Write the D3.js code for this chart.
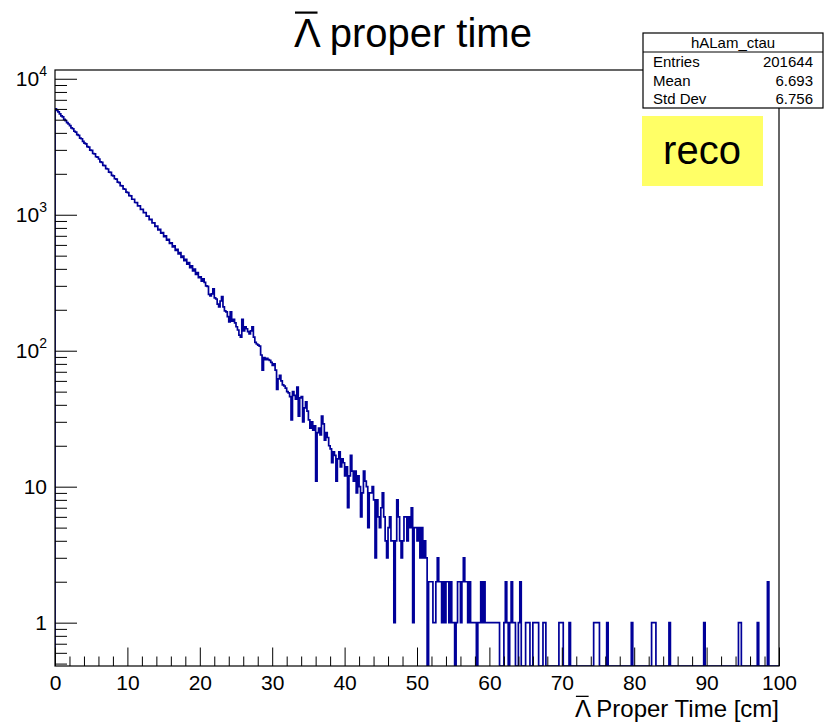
<!DOCTYPE html>
<html><head><meta charset="utf-8">
<script src="https://cdn.jsdelivr.net/npm/d3@7"></script>
<style>
body{margin:0;background:#fff}
svg{display:block}
text{font-family:"Liberation Sans",Arial,Helvetica,sans-serif;fill:#000}
</style>
</head><body>
<svg id="c" width="825" height="725"></svg>
<script>
// ---- data (bin contents of hALam_ctau, 500 bins over 0..100 cm) ----
const counts = [
6020,5850,5700,5510,5330,5240,5020,4930,4760,4650,
4530,4350,4290,4110,4050,3880,3830,3660,3620,3460,
3360,3320,3170,3140,2990,2970,2820,2800,2670,2650,
2570,2450,2430,2310,2300,2180,2170,2060,2050,1950,
1930,1840,1825,1740,1725,1640,1630,1550,1540,1465,
1455,1380,1375,1300,1300,1230,1228,1160,1160,1095,
1095,1035,1035,978,978,922,925,870,873,822,
826,775,780,732,738,690,698,650,660,615,
622,580,590,546,556,515,526,486,497,460,
470,434,445,408,420,386,398,364,376,345,
350,325,338,318,300,297,260,253,262,285,
245,240,220,210,232,250,210,196,193,178,
163,193,165,170,160,150,142,130,126,170,
140,150,145,138,133,140,150,126,115,112,
110,108,93,72,89,86,88,86,85,82,
78,80,72,52,62,66,60,56,55,53,
50,49,46,31,50,47,44,54,33,45,
46,30,38,42,36,31,27,30,26,28,
11,25,27,24,33,29,22,25,23,20,
19,15,18,17,11,16,18,14,16,15,
12,14,7,12,17,13,11,13,9,12,
10,6,9,13,11,10,5,9,9,10,
8,3,8,6,5,7,9,6,4,3,
5,6,4,4,1,4,8,6,4,3,
4,6,6,4,6,5,7,1,5,5,
4,5,3,5,3,4,3,0,2,2,
2,1,1,2,3,2,2,1,2,1,
2,2,1,2,1,1,0,1,2,2,
1,2,3,2,2,1,2,1,1,1,
1,0,1,1,2,1,2,1,1,1,
1,1,1,1,1,1,1,0,0,0,
1,2,1,0,1,2,1,1,0,0,
1,2,0,0,0,1,1,1,0,0,
1,1,1,1,0,0,0,1,1,0,
0,0,0,0,0,0,0,0,1,1,
1,0,0,0,0,1,0,0,0,0,
0,0,0,0,0,0,0,0,0,0,
0,0,1,1,1,1,0,0,0,0,
0,1,0,0,0,0,0,0,0,0,
0,0,0,0,0,0,0,0,1,0,
0,0,0,0,0,0,0,0,0,0,
0,0,1,1,1,0,0,0,0,0,
0,0,0,0,1,0,0,0,0,0,
0,0,0,0,0,0,0,0,0,0,
0,0,0,0,0,0,0,0,1,0,
0,0,0,0,0,0,0,0,0,0,
0,0,0,0,0,0,0,0,0,0,
0,0,1,1,0,0,0,0,0,0,
0,0,0,0,0,1,0,0,0,0,
0,0,2,0,0,0,0,0,0,0
];
const xRange = [0, 100];
const xTickValues = [0,10,20,30,40,50,60,70,80,90,100];
const xTickLabels = ["0","10","20","30","40","50","60","70","80","90","100"];
const yTickValues = [1,10,100,1000,10000];
const yTickBase   = ["1","10","10","10","10"];
const yTickExp    = ["","","2","3","4"];
const titleSymbol = "\u039B";
const titleText   = "proper time";
const xTitleText  = "Proper Time [cm]";
const statsName   = "hALam_ctau";
const statsLabels = ["Entries","Mean","Std Dev"];
const statsValues = ["201644","6.693","6.756"];
const tagText     = "reco";

// ---- layout ----
const svg = d3.select("#c");
const L = 55, R = 779, T = 70, B = 666;
const nBins = counts.length;
const bw = (xRange[1]-xRange[0]) / nBins;
const x = d3.scaleLinear().domain(xRange).range([L, R]);
const y = d3.scaleLog().domain([0.48, 11600]).range([B, T]).clamp(true);
const histColor = "#000099";

svg.append("rect").attr("width",825).attr("height",725).attr("fill","#fff");

svg.append("defs").append("clipPath").attr("id","fr")
  .append("rect").attr("x",L).attr("y",T).attr("width",R-L).attr("height",B-T);

// histogram outline
const pts = [[x(xRange[0]), B]];
counts.forEach((v,i) => pts.push([x(xRange[0]+i*bw), v>0 ? y(v) : B]));
pts.push([x(xRange[1]), counts[nBins-1]>0 ? y(counts[nBins-1]) : B]);
pts.push([x(xRange[1]), B]);
svg.append("path")
  .attr("clip-path","url(#fr)")
  .attr("d", d3.line().curve(d3.curveStepAfter)(pts))
  .attr("fill","none").attr("stroke",histColor).attr("stroke-width",1.7)
  .attr("stroke-linejoin","miter");

// x axis
const gx = svg.append("g").attr("transform",`translate(0,${B})`);
gx.call(d3.axisBottom(x).tickValues(xTickValues).tickSize(-18.5).tickPadding(9)
  .tickFormat((d,i)=>xTickLabels[i]));
const xMinor = d3.range(xRange[0], xRange[1]+0.001, 2).filter(v => v%10 !== 0);
svg.append("g").attr("transform",`translate(0,${B})`)
  .call(d3.axisBottom(x).tickValues(xMinor).tickSize(-9.5).tickFormat(""));

// y axis
const gy = svg.append("g").attr("transform",`translate(${L},0)`);
gy.call(d3.axisLeft(y).tickValues(yTickValues).tickSize(-22).tickFormat(""));
const yMinor = [];
for (let k=-1;k<=4;k++) for (let m=2;m<=9;m++){ const v=m*Math.pow(10,k); if (v>=0.48 && v<=11600) yMinor.push(v); }
svg.append("g").attr("transform",`translate(${L},0)`)
  .call(d3.axisLeft(y).tickValues(yMinor).tickSize(-12).tickFormat(""));

svg.selectAll(".domain").remove();
svg.selectAll(".tick line").attr("stroke","#000").attr("stroke-width",1);
gx.selectAll(".tick text").attr("font-size",21).attr("font-family","Liberation Sans, Arial, sans-serif");

// y labels with superscripts
yTickValues.forEach((v,i) => {
  const t = svg.append("text").attr("x", L-8).attr("y", y(v)).attr("dy","0.36em")
    .attr("text-anchor","end").attr("font-size",21);
  t.append("tspan").text(yTickBase[i]);
  if (yTickExp[i]) t.append("tspan").attr("font-size",14).attr("dy","-0.75em").text(yTickExp[i]);
});

// frame
svg.append("rect").attr("x",L).attr("y",T).attr("width",R-L).attr("height",B-T)
  .attr("fill","none").attr("stroke","#000").attr("stroke-width",1.2);

// title with overlined Lambda
function barred(xStart, yBase, size, rest, anchorEnd) {
  const g = svg.append("g");
  const t = g.append("text").attr("y", yBase).attr("font-size", size);
  t.append("tspan").text(titleSymbol);
  t.append("tspan").text(" " + rest);
  t.attr("x", xStart).attr("text-anchor", anchorEnd ? "end" : "start");
  const node = t.node();
  const ext = node.getExtentOfChar(0);
  g.append("line").attr("x1", ext.x+1).attr("x2", ext.x+ext.width-1)
    .attr("y1", yBase - size*0.86).attr("y2", yBase - size*0.86)
    .attr("stroke","#000").attr("stroke-width", Math.max(1.2, size*0.055));
  return t;
}
barred(294, 47, 40, titleText, false);
barred(R, 717, 24, xTitleText, true);

// stats box
const sx = 643, sy = 33, sw = 180, sh = 75, hh = 19;
svg.append("rect").attr("x",sx).attr("y",sy).attr("width",sw).attr("height",sh)
  .attr("fill","#fff").attr("stroke","#000").attr("stroke-width",1.2);
svg.append("line").attr("x1",sx).attr("x2",sx+sw).attr("y1",sy+hh).attr("y2",sy+hh)
  .attr("stroke","#000").attr("stroke-width",1);
svg.append("text").attr("x",sx+sw/2).attr("y",sy+hh/2).attr("dy","0.36em")
  .attr("text-anchor","middle").attr("font-size",15).text(statsName);
statsLabels.forEach((lab,i) => {
  const yy = sy + hh + 10 + i*18.5;
  svg.append("text").attr("x",sx+10).attr("y",yy).attr("dy","0.36em").attr("font-size",15).text(lab);
  svg.append("text").attr("x",sx+sw-10).attr("y",yy).attr("dy","0.36em").attr("text-anchor","end")
    .attr("font-size",15).text(statsValues[i]);
});

// reco tag
svg.append("rect").attr("x",642).attr("y",116).attr("width",121).attr("height",70).attr("fill","#ffff66");
svg.append("text").attr("x",702).attr("y",164).attr("text-anchor","middle").attr("font-size",40).text(tagText);
</script>
</body></html>
